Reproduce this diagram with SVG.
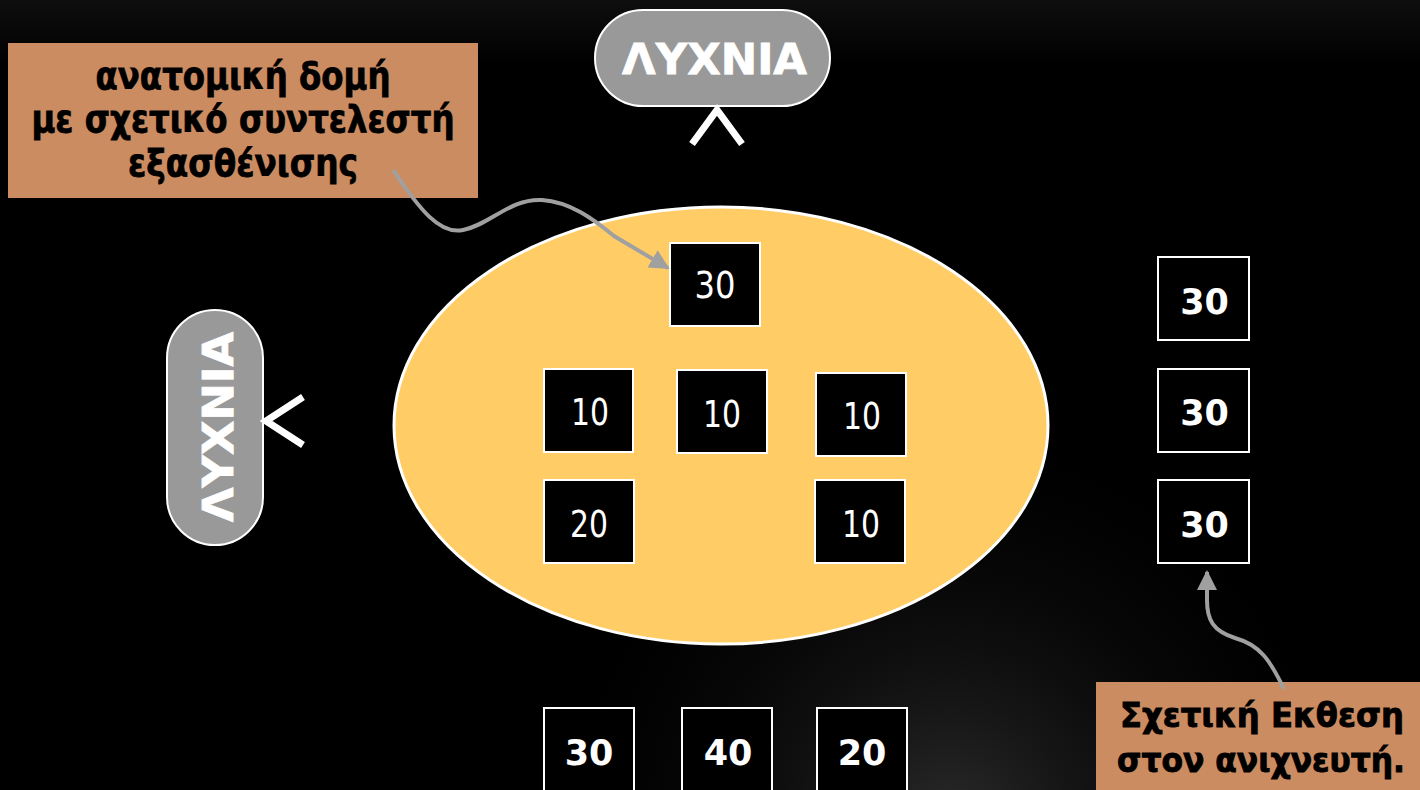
<svg xmlns="http://www.w3.org/2000/svg" width="1420" height="790" viewBox="0 0 1420 790">
<defs>
<linearGradient id="bgTop" x1="0" y1="0" x2="0" y2="1">
<stop offset="0" stop-color="#0e0e0e"/>
<stop offset="0.08" stop-color="#000"/>
<stop offset="1" stop-color="#000"/>
</linearGradient>
<radialGradient id="bgGlow" cx="950" cy="820" r="420" gradientUnits="userSpaceOnUse">
<stop offset="0" stop-color="#2a2a2a"/>
<stop offset="1" stop-color="#000" stop-opacity="0"/>
</radialGradient>
<marker id="arr" viewBox="0 0 10 10" refX="9" refY="5" markerWidth="5" markerHeight="5" orient="auto" markerUnits="strokeWidth">
<path d="M0,0 L10,5 L0,10 Z" fill="#a0a0a0"/>
</marker>
<style>
.callout{fill:#CC8C62}
.ctext{font-family:"DejaVu Sans",sans-serif;font-weight:bold;font-size:37px;fill:#000;stroke:#000;stroke-width:0.8;text-anchor:middle}
.ctext2{font-family:"DejaVu Sans",sans-serif;font-weight:bold;font-size:33px;fill:#000;stroke:#000;stroke-width:0.9;text-anchor:middle}
.lamp{fill:#999999;stroke:#fff;stroke-width:2}
.ltext{font-family:"DejaVu Sans",sans-serif;font-weight:bold;font-size:43px;fill:#fff;stroke:#fff;stroke-width:0.8;text-anchor:middle}
.chev{fill:none;stroke:#fff;stroke-width:7;stroke-linejoin:miter;stroke-linecap:butt}
.box{fill:#000;stroke:#fff;stroke-width:2}
.ntext{font-family:"DejaVu Sans",sans-serif;font-size:38px;fill:#fff;text-anchor:middle}
.btext{font-family:"DejaVu Sans",sans-serif;font-weight:bold;font-size:35px;fill:#fff;text-anchor:middle}
.conn{fill:none;stroke:#a0a0a0;stroke-width:4;marker-end:url(#arr)}
</style>
</defs>
<rect width="1420" height="790" fill="url(#bgTop)"/>
<rect width="1420" height="790" fill="url(#bgGlow)"/>

<g id="ellipse">
<ellipse cx="721" cy="425.5" rx="327" ry="218.5" fill="#FFCC66" stroke="#fff" stroke-width="3"/>
</g>

<g id="callout-top">
<rect class="callout" x="8" y="43" width="470" height="155"/>
<text class="ctext" x="243" y="89" textLength="295" lengthAdjust="spacingAndGlyphs">ανατομική δομή</text>
<text class="ctext" x="243" y="132" textLength="423" lengthAdjust="spacingAndGlyphs">με σχετικό συντελεστή</text>
<text class="ctext" x="243" y="176" textLength="230" lengthAdjust="spacingAndGlyphs">εξασθένισης</text>
</g>

<g id="lamp-top">
<rect class="lamp" x="595" y="10" width="235" height="96" rx="48" ry="48"/>
<text class="ltext" x="714.5" y="74" textLength="185" lengthAdjust="spacingAndGlyphs">ΛΥΧΝΙΑ</text>
<polyline class="chev" points="692,144 717,110 742,144"/>
</g>

<g id="lamp-left">
<rect class="lamp" x="167" y="310" width="96" height="235" rx="48" ry="48"/>
<text class="ltext" transform="translate(233,427) rotate(-90)" x="0" y="0" textLength="190" lengthAdjust="spacingAndGlyphs">ΛΥΧΝΙΑ</text>
<polyline class="chev" points="303,397 266,421 303,445"/>
</g>

<g id="box-in-30">
<rect class="box" x="670" y="243" width="90" height="83"/>
<text class="ntext" x="715" y="298" textLength="41" lengthAdjust="spacingAndGlyphs">30</text>
</g>
<g id="box-in-10a">
<rect class="box" x="544" y="369" width="89" height="83"/>
<text class="ntext" x="590" y="425" textLength="38" lengthAdjust="spacingAndGlyphs">10</text>
</g>
<g id="box-in-10b">
<rect class="box" x="677" y="370" width="90" height="83"/>
<text class="ntext" x="722" y="427" textLength="38" lengthAdjust="spacingAndGlyphs">10</text>
</g>
<g id="box-in-10c">
<rect class="box" x="816" y="373" width="90" height="83"/>
<text class="ntext" x="862" y="429" textLength="38" lengthAdjust="spacingAndGlyphs">10</text>
</g>
<g id="box-in-20">
<rect class="box" x="544" y="480" width="90" height="83"/>
<text class="ntext" x="589" y="537" textLength="38" lengthAdjust="spacingAndGlyphs">20</text>
</g>
<g id="box-in-10d">
<rect class="box" x="815" y="480" width="90" height="83"/>
<text class="ntext" x="861" y="537" textLength="38" lengthAdjust="spacingAndGlyphs">10</text>
</g>

<g id="box-r1">
<rect class="box" x="1158" y="257" width="91" height="83"/>
<text class="btext" x="1204.5" y="314">30</text>
</g>
<g id="box-r2">
<rect class="box" x="1158" y="369" width="91" height="83"/>
<text class="btext" x="1204.5" y="425">30</text>
</g>
<g id="box-r3">
<rect class="box" x="1158" y="480" width="91" height="83"/>
<text class="btext" x="1204.5" y="537">30</text>
</g>

<g id="box-b1">
<rect class="box" x="544" y="708" width="90" height="90"/>
<text class="btext" x="589" y="765">30</text>
</g>
<g id="box-b2">
<rect class="box" x="682" y="708" width="90" height="90"/>
<text class="btext" x="728" y="765">40</text>
</g>
<g id="box-b3">
<rect class="box" x="817" y="708" width="90" height="90"/>
<text class="btext" x="862" y="765">20</text>
</g>

<g id="callout-bottom">
<rect class="callout" x="1096" y="682" width="324" height="108"/>
<text class="ctext2" x="1262" y="727" textLength="284" lengthAdjust="spacingAndGlyphs">Σχετική Εκθεση</text>
<text class="ctext2" x="1261" y="772" textLength="288" lengthAdjust="spacingAndGlyphs">στον ανιχνευτή.</text>
</g>

<g id="connectors">
<path class="conn" d="M393,170 C420,210 440,235 463,230 C490,225 510,198 542,200 C570,202 592,218 614,236 L668,268"/>
<path class="conn" d="M1284,689 C1270,660 1260,645 1235,638 C1213,631 1207,620 1207,600 L1207,572"/>
</g>
</svg>
